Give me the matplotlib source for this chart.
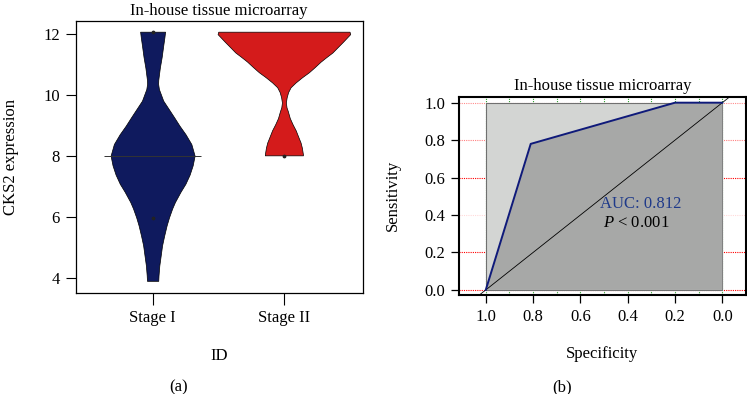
"""
CKS2 expression by stage (violin) and ROC curve for the in-house tissue microarray.
"""

import numpy as np
import matplotlib
matplotlib.use("Agg")
import matplotlib.pyplot as plt

plt.rcParams['font.family'] = ['Liberation Serif', 'DejaVu Serif']
plt.rcParams['mathtext.fontset'] = 'custom'
plt.rcParams['mathtext.rm'] = 'Liberation Serif'
plt.rcParams['mathtext.it'] = 'Liberation Serif:italic'

# Violin outlines: expression level and half width
stage1_y = [12.08, 11.9, 11.6, 11.25, 10.9, 10.5, 10.37, 10.2, 9.82, 9.5, 9.27, 9.0,
            8.72, 8.4, 8.02, 7.7, 7.4, 7.1, 6.84, 6.5, 6.29, 6.0, 5.74, 5.4, 5.08,
            4.7, 4.42, 4.1, 3.92]
stage1_w = [0.095, 0.090, 0.080, 0.069, 0.055, 0.043, 0.042, 0.048, 0.081, 0.130, 0.165, 0.205,
            0.251, 0.295, 0.320, 0.305, 0.282, 0.250, 0.213, 0.170, 0.149, 0.125, 0.107, 0.088, 0.072,
            0.060, 0.051, 0.045, 0.043]
stage2_y = [12.08, 12.0, 11.91, 11.75, 11.58, 11.4, 11.25, 11.1, 10.92, 10.75, 10.59, 10.42,
            10.26, 10.1, 9.93, 9.76, 9.6, 9.49, 9.25, 9.05, 8.85, 8.61, 8.45, 8.28, 8.06, 8.03]
stage2_w = [0.500, 0.505, 0.485, 0.450, 0.411, 0.370, 0.324, 0.280, 0.235, 0.190, 0.139, 0.090,
            0.051, 0.032, 0.021, 0.015, 0.020, 0.029, 0.045, 0.066, 0.090, 0.112, 0.127, 0.137, 0.145, 0.145]
stages = ['Stage I', 'Stage II']
stage_colors = ['#0f1a5e', '#d41b1b']
stage1_median = 8.0
marker_x = [1, 1, 2]
marker_y = [12.07, 5.98, 8.02]

# ROC curve points (specificity, sensitivity)
roc_spec = [1.0, 0.81, 0.2, 0.0]
roc_sens = [0.0, 0.78, 1.0, 1.0]
auc_text = 'AUC: 0.812'
p_text = r'$\mathit{P}$ < 0.001'

FS = 12

fig = plt.figure(figsize=(7.47, 3.94), dpi=100)

# ---- (a) violin plot ----
ax1 = fig.add_axes([0.1013, 0.2570, 0.3842, 0.6897])
for pos, ys, ws, col in zip([1, 2], [stage1_y, stage2_y], [stage1_w, stage2_w], stage_colors):
    ys = np.array(ys)
    ws = np.array(ws)
    ax1.fill_betweenx(ys, pos - ws, pos + ws, facecolor=col, edgecolor='black', linewidth=0.5)
ax1.hlines(stage1_median, 1 - 0.37, 1 + 0.37, color='#333333', linewidth=0.7)
ax1.scatter(marker_x, marker_y, s=3, color='#222222', zorder=3)
ax1.set_xlim(0.414, 2.6)
ax1.set_ylim(3.53, 12.43)
ax1.set_xticks([1, 2])
ax1.set_xticklabels(stages)
ax1.set_yticks([4, 6, 8, 10, 12])
ax1.tick_params(axis='x', direction='out', length=8.5, width=0.8, labelsize=FS, pad=4)
ax1.tick_params(axis='y', direction='out', length=7.5, width=0.8, labelsize=FS, pad=4)
ax1.set_xlabel('ID', fontsize=FS, labelpad=16)
ax1.set_ylabel('CKS2 expression', fontsize=FS, labelpad=17)
ax1.set_title('In-house tissue microarray', fontsize=FS, pad=4)
for s in ax1.spines.values():
    s.set_linewidth(0.9)

# ---- (b) ROC curve ----
ax2 = fig.add_axes([0.6145, 0.2513, 0.3838, 0.5033])
ax2.set_xlim(1.113, -0.099)
ax2.set_ylim(-0.027, 1.032)
grid_alpha = [1.0, 1.0, 0.15, 1.0, 0.5, 0.45]
for yv, a in zip(np.arange(0, 1.01, 0.2), grid_alpha):
    ax2.axhline(yv, color='red', linestyle=(0, (1, 1)), linewidth=0.8, alpha=a, zorder=0)
for xv in np.arange(0, 1.01, 0.1):
    ax2.axvline(xv, color='#2ca02c', linestyle=(0, (1, 1)), linewidth=0.8, zorder=0)
ax2.fill([1, 1, 0, 0], [0, 1, 1, 0], facecolor='#d3d5d3', edgecolor='#707070', linewidth=0.8, zorder=1)
ax2.fill(roc_spec + [0.0], roc_sens + [0.0], facecolor='#a7a8a7', edgecolor='none', zorder=2)
ax2.plot(roc_spec, roc_sens, color='#0f1a7a', linewidth=1.4, zorder=4)
ax2.axline((1, 0), (0, 1), color='black', linewidth=0.6, zorder=3)
ax2.text(0.517, 0.459, auc_text, color='#1f3a8a', fontsize=FS, va='center', ha='left', zorder=5)
ax2.text(0.506, 0.359, p_text, color='black', fontsize=FS, va='center', ha='left', zorder=5)
ax2.set_xticks([1.0, 0.8, 0.6, 0.4, 0.2, 0.0])
ax2.set_xticklabels(['1.0', '0.8', '0.6', '0.4', '0.2', '0.0'])
ax2.set_yticks([0.0, 0.2, 0.4, 0.6, 0.8, 1.0])
ax2.set_yticklabels(['0.0', '0.2', '0.4', '0.6', '0.8', '1.0'])
ax2.tick_params(direction='out', length=6, width=0.9, labelsize=FS, pad=4)
ax2.set_xlabel('Specificity', fontsize=FS, labelpad=15)
ax2.set_ylabel('Sensitivity', fontsize=FS, labelpad=17)
ax2.set_title('In-house tissue microarray', fontsize=FS, pad=5)
for s in ax2.spines.values():
    s.set_linewidth(1.5)

fig.text(179 / 747, 1 - 387 / 394, '(a)', fontsize=FS, ha='center', va='center')
fig.text(561.7 / 747, 1 - 387 / 394, '(b)', fontsize=FS, ha='center', va='center')

fig.savefig('out.png', dpi=100)
